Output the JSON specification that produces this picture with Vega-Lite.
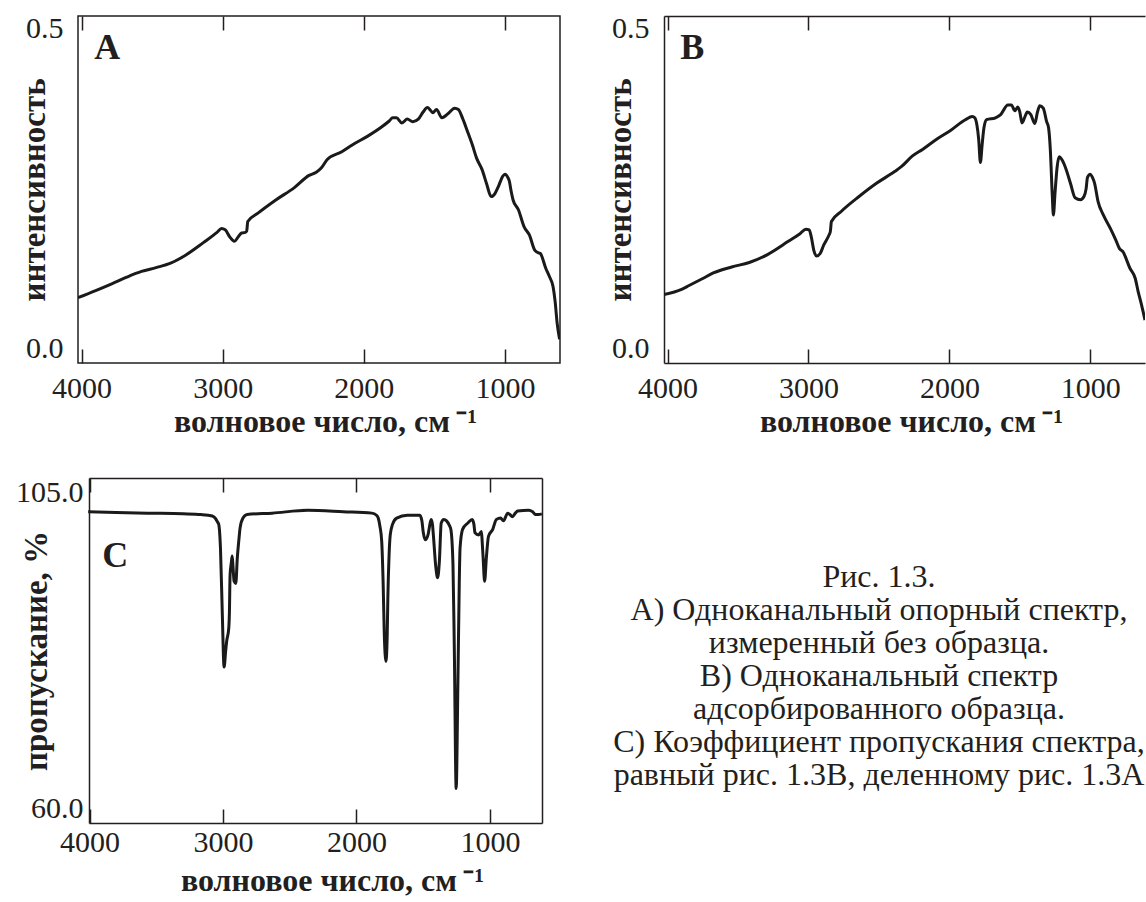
{
  "$schema": "https://vega.github.io/schema/vega-lite/v6.json",
  "background": "white",
  "padding": {"left": 14, "top": 13, "right": 0, "bottom": 0},
  "config": {
    "view": {"stroke": "#231f20", "strokeWidth": 1.5},
    "font": "Liberation Serif",
    "axis": {
      "labelFont": "Liberation Serif", "titleFont": "Liberation Serif",
      "labelColor": "#231f20", "titleColor": "#231f20",
      "labelFontSize": 30, "titleFontSize": 33, "titleFontWeight": "bold",
      "grid": false, "domain": false, "tickColor": "#231f20", "tickWidth": 1.5,
      "domainColor": "#231f20", "domainWidth": 1.5,
      "labelOverlap": false, "labelFlush": false
    }
  },
  "datasets": {
    "A": [
      {"wavenumber": 4025, "value": 0.080}, {"wavenumber": 3900, "value": 0.091}, {"wavenumber": 3782, "value": 0.102},
      {"wavenumber": 3680, "value": 0.112}, {"wavenumber": 3575, "value": 0.121}, {"wavenumber": 3472, "value": 0.127},
      {"wavenumber": 3369, "value": 0.134}, {"wavenumber": 3266, "value": 0.146}, {"wavenumber": 3137, "value": 0.166},
      {"wavenumber": 3040, "value": 0.182}, {"wavenumber": 3008, "value": 0.188}, {"wavenumber": 2982, "value": 0.186},
      {"wavenumber": 2950, "value": 0.175}, {"wavenumber": 2917, "value": 0.168}, {"wavenumber": 2890, "value": 0.175},
      {"wavenumber": 2866, "value": 0.181}, {"wavenumber": 2840, "value": 0.182}, {"wavenumber": 2830, "value": 0.184},
      {"wavenumber": 2822, "value": 0.199}, {"wavenumber": 2750, "value": 0.212}, {"wavenumber": 2621, "value": 0.233},
      {"wavenumber": 2492, "value": 0.252}, {"wavenumber": 2388, "value": 0.271}, {"wavenumber": 2337, "value": 0.276},
      {"wavenumber": 2300, "value": 0.283}, {"wavenumber": 2259, "value": 0.296}, {"wavenumber": 2156, "value": 0.308},
      {"wavenumber": 2079, "value": 0.319}, {"wavenumber": 1975, "value": 0.332}, {"wavenumber": 1872, "value": 0.347},
      {"wavenumber": 1820, "value": 0.356}, {"wavenumber": 1795, "value": 0.361}, {"wavenumber": 1769, "value": 0.361},
      {"wavenumber": 1730, "value": 0.353}, {"wavenumber": 1692, "value": 0.359}, {"wavenumber": 1653, "value": 0.355},
      {"wavenumber": 1614, "value": 0.359}, {"wavenumber": 1580, "value": 0.370}, {"wavenumber": 1550, "value": 0.377},
      {"wavenumber": 1525, "value": 0.372}, {"wavenumber": 1511, "value": 0.369}, {"wavenumber": 1485, "value": 0.374},
      {"wavenumber": 1447, "value": 0.361}, {"wavenumber": 1400, "value": 0.368}, {"wavenumber": 1356, "value": 0.376},
      {"wavenumber": 1330, "value": 0.374}, {"wavenumber": 1300, "value": 0.360}, {"wavenumber": 1266, "value": 0.340},
      {"wavenumber": 1230, "value": 0.318}, {"wavenumber": 1201, "value": 0.298}, {"wavenumber": 1162, "value": 0.280},
      {"wavenumber": 1130, "value": 0.258}, {"wavenumber": 1098, "value": 0.238}, {"wavenumber": 1070, "value": 0.243},
      {"wavenumber": 1046, "value": 0.254}, {"wavenumber": 1015, "value": 0.270}, {"wavenumber": 1000, "value": 0.273},
      {"wavenumber": 980, "value": 0.268}, {"wavenumber": 969, "value": 0.262}, {"wavenumber": 955, "value": 0.245},
      {"wavenumber": 943, "value": 0.233}, {"wavenumber": 904, "value": 0.217}, {"wavenumber": 865, "value": 0.191},
      {"wavenumber": 827, "value": 0.178}, {"wavenumber": 788, "value": 0.154}, {"wavenumber": 760, "value": 0.150},
      {"wavenumber": 749, "value": 0.149}, {"wavenumber": 711, "value": 0.126}, {"wavenumber": 685, "value": 0.113},
      {"wavenumber": 659, "value": 0.097}, {"wavenumber": 645, "value": 0.075}, {"wavenumber": 630, "value": 0.040},
      {"wavenumber": 613, "value": 0.015}
    ],
    "B": [
      {"wavenumber": 4025, "value": 0.085}, {"wavenumber": 3900, "value": 0.093}, {"wavenumber": 3847, "value": 0.099},
      {"wavenumber": 3750, "value": 0.110}, {"wavenumber": 3671, "value": 0.119}, {"wavenumber": 3545, "value": 0.128},
      {"wavenumber": 3420, "value": 0.135}, {"wavenumber": 3294, "value": 0.147}, {"wavenumber": 3143, "value": 0.168},
      {"wavenumber": 3060, "value": 0.180}, {"wavenumber": 3018, "value": 0.187}, {"wavenumber": 2995, "value": 0.186},
      {"wavenumber": 2980, "value": 0.175}, {"wavenumber": 2962, "value": 0.154}, {"wavenumber": 2942, "value": 0.145},
      {"wavenumber": 2917, "value": 0.149}, {"wavenumber": 2892, "value": 0.162}, {"wavenumber": 2854, "value": 0.178},
      {"wavenumber": 2845, "value": 0.183}, {"wavenumber": 2837, "value": 0.199}, {"wavenumber": 2766, "value": 0.215},
      {"wavenumber": 2641, "value": 0.238}, {"wavenumber": 2515, "value": 0.259}, {"wavenumber": 2389, "value": 0.277},
      {"wavenumber": 2339, "value": 0.285}, {"wavenumber": 2264, "value": 0.301}, {"wavenumber": 2188, "value": 0.312},
      {"wavenumber": 2088, "value": 0.328}, {"wavenumber": 1987, "value": 0.342}, {"wavenumber": 1887, "value": 0.358},
      {"wavenumber": 1837, "value": 0.363}, {"wavenumber": 1820, "value": 0.361}, {"wavenumber": 1805, "value": 0.350},
      {"wavenumber": 1792, "value": 0.327}, {"wavenumber": 1780, "value": 0.291}, {"wavenumber": 1768, "value": 0.318},
      {"wavenumber": 1755, "value": 0.345}, {"wavenumber": 1736, "value": 0.358}, {"wavenumber": 1673, "value": 0.361},
      {"wavenumber": 1636, "value": 0.366}, {"wavenumber": 1585, "value": 0.381}, {"wavenumber": 1560, "value": 0.381},
      {"wavenumber": 1535, "value": 0.372}, {"wavenumber": 1515, "value": 0.378}, {"wavenumber": 1500, "value": 0.370},
      {"wavenumber": 1485, "value": 0.353}, {"wavenumber": 1465, "value": 0.362}, {"wavenumber": 1447, "value": 0.370},
      {"wavenumber": 1422, "value": 0.366}, {"wavenumber": 1394, "value": 0.352}, {"wavenumber": 1375, "value": 0.370},
      {"wavenumber": 1359, "value": 0.380}, {"wavenumber": 1334, "value": 0.376}, {"wavenumber": 1310, "value": 0.355},
      {"wavenumber": 1296, "value": 0.345}, {"wavenumber": 1284, "value": 0.312}, {"wavenumber": 1270, "value": 0.240},
      {"wavenumber": 1262, "value": 0.209}, {"wavenumber": 1250, "value": 0.245}, {"wavenumber": 1235, "value": 0.285},
      {"wavenumber": 1221, "value": 0.300}, {"wavenumber": 1200, "value": 0.295}, {"wavenumber": 1171, "value": 0.280},
      {"wavenumber": 1140, "value": 0.258}, {"wavenumber": 1108, "value": 0.236}, {"wavenumber": 1070, "value": 0.233},
      {"wavenumber": 1045, "value": 0.238}, {"wavenumber": 1030, "value": 0.250}, {"wavenumber": 1020, "value": 0.268},
      {"wavenumber": 1000, "value": 0.273}, {"wavenumber": 985, "value": 0.268}, {"wavenumber": 970, "value": 0.259},
      {"wavenumber": 945, "value": 0.230}, {"wavenumber": 907, "value": 0.209}, {"wavenumber": 857, "value": 0.188},
      {"wavenumber": 819, "value": 0.170}, {"wavenumber": 794, "value": 0.157}, {"wavenumber": 769, "value": 0.152},
      {"wavenumber": 719, "value": 0.126}, {"wavenumber": 681, "value": 0.110}, {"wavenumber": 661, "value": 0.090},
      {"wavenumber": 640, "value": 0.072}, {"wavenumber": 625, "value": 0.058}, {"wavenumber": 612, "value": 0.045}
    ],
    "C": [
      {"wavenumber": 4010, "value": 102.3}, {"wavenumber": 3800, "value": 102.2}, {"wavenumber": 3565, "value": 102.1},
      {"wavenumber": 3300, "value": 102.0}, {"wavenumber": 3165, "value": 101.9}, {"wavenumber": 3080, "value": 101.7},
      {"wavenumber": 3059, "value": 101.4}, {"wavenumber": 3040, "value": 100.8}, {"wavenumber": 3032, "value": 100.5},
      {"wavenumber": 3019, "value": 97.1}, {"wavenumber": 3005, "value": 87.6}, {"wavenumber": 2992, "value": 80.2},
      {"wavenumber": 2980, "value": 82.5}, {"wavenumber": 2973, "value": 83.8}, {"wavenumber": 2957, "value": 85.7},
      {"wavenumber": 2952, "value": 88.0}, {"wavenumber": 2947, "value": 93.3}, {"wavenumber": 2938, "value": 95.0},
      {"wavenumber": 2931, "value": 96.0}, {"wavenumber": 2925, "value": 94.5}, {"wavenumber": 2917, "value": 92.4},
      {"wavenumber": 2904, "value": 92.1}, {"wavenumber": 2893, "value": 95.7}, {"wavenumber": 2880, "value": 98.5},
      {"wavenumber": 2872, "value": 100.0}, {"wavenumber": 2850, "value": 101.4}, {"wavenumber": 2819, "value": 101.9},
      {"wavenumber": 2632, "value": 102.1}, {"wavenumber": 2365, "value": 102.5}, {"wavenumber": 2099, "value": 102.3},
      {"wavenumber": 1885, "value": 102.1}, {"wavenumber": 1850, "value": 101.8}, {"wavenumber": 1837, "value": 101.4},
      {"wavenumber": 1825, "value": 100.3}, {"wavenumber": 1811, "value": 98.1}, {"wavenumber": 1800, "value": 92.0},
      {"wavenumber": 1792, "value": 85.2}, {"wavenumber": 1779, "value": 81.0}, {"wavenumber": 1770, "value": 84.5},
      {"wavenumber": 1765, "value": 90.0}, {"wavenumber": 1756, "value": 96.0}, {"wavenumber": 1747, "value": 99.0},
      {"wavenumber": 1730, "value": 100.5}, {"wavenumber": 1699, "value": 101.4}, {"wavenumber": 1619, "value": 101.8},
      {"wavenumber": 1525, "value": 101.8}, {"wavenumber": 1510, "value": 101.0}, {"wavenumber": 1499, "value": 99.3},
      {"wavenumber": 1485, "value": 98.3}, {"wavenumber": 1464, "value": 99.0}, {"wavenumber": 1450, "value": 100.5},
      {"wavenumber": 1440, "value": 101.2}, {"wavenumber": 1430, "value": 100.4}, {"wavenumber": 1424, "value": 99.0},
      {"wavenumber": 1405, "value": 94.3}, {"wavenumber": 1392, "value": 92.9}, {"wavenumber": 1379, "value": 95.2},
      {"wavenumber": 1365, "value": 100.7}, {"wavenumber": 1345, "value": 101.2}, {"wavenumber": 1325, "value": 101.0},
      {"wavenumber": 1305, "value": 100.4}, {"wavenumber": 1293, "value": 99.8}, {"wavenumber": 1277, "value": 94.8},
      {"wavenumber": 1267, "value": 82.9}, {"wavenumber": 1253, "value": 62.9}, {"wavenumber": 1240, "value": 78.1},
      {"wavenumber": 1230, "value": 92.0}, {"wavenumber": 1224, "value": 97.1}, {"wavenumber": 1205, "value": 99.8},
      {"wavenumber": 1165, "value": 100.7}, {"wavenumber": 1133, "value": 101.2}, {"wavenumber": 1120, "value": 100.5},
      {"wavenumber": 1112, "value": 99.3}, {"wavenumber": 1085, "value": 99.0}, {"wavenumber": 1064, "value": 99.5},
      {"wavenumber": 1058, "value": 98.0}, {"wavenumber": 1051, "value": 95.7}, {"wavenumber": 1040, "value": 92.4},
      {"wavenumber": 1027, "value": 95.7}, {"wavenumber": 1011, "value": 98.8}, {"wavenumber": 979, "value": 99.8},
      {"wavenumber": 952, "value": 101.2}, {"wavenumber": 920, "value": 101.4}, {"wavenumber": 899, "value": 101.0},
      {"wavenumber": 867, "value": 102.1}, {"wavenumber": 850, "value": 101.9}, {"wavenumber": 832, "value": 101.6},
      {"wavenumber": 810, "value": 102.1}, {"wavenumber": 792, "value": 102.4}, {"wavenumber": 712, "value": 102.5},
      {"wavenumber": 680, "value": 102.3}, {"wavenumber": 659, "value": 101.9}, {"wavenumber": 635, "value": 101.9},
      {"wavenumber": 611, "value": 102.0}
    ],
    "caption": [
      {"line": 1, "text": "Рис. 1.3."},
      {"line": 2, "text": "А) Одноканальный опорный спектр,"},
      {"line": 3, "text": "измеренный без образца."},
      {"line": 4, "text": "В) Одноканальный спектр"},
      {"line": 5, "text": "адсорбированного образца."},
      {"line": 6, "text": "С) Коэффициент пропускания спектра,"},
      {"line": 7, "text": "равный рис. 1.3В, деленному рис. 1.3А"}
    ]
  },
  "spacing": 39,
  "vconcat": [
    {
      "spacing": 40,
      "hconcat": [
        {
          "width": 482, "height": 347,
          "resolve": {"axis": {"x": "independent"}},
          "layer": [
            {
              "data": {"name": "A"},
              "mark": {"type": "line", "color": "#1a1a1a", "strokeWidth": 3, "interpolate": "monotone", "clip": true},
              "encoding": {
                "x": {"field": "wavenumber", "type": "quantitative",
                  "scale": {"domain": [4025, 610], "nice": false, "zero": false},
                  "axis": {"orient": "bottom", "values": [4000, 3000, 2000, 1000], "format": "d", "tickSize": -14, "labelPadding": 24, "title": "волновое число, см\u2009⁻¹", "titleFontSize": 32, "titlePadding": 3, "titleX": 247}},
                "y": {"field": "value", "type": "quantitative",
                  "scale": {"domain": [-0.022, 0.52], "nice": false, "zero": false},
                  "axis": {"values": [0, 0.5], "format": ".1f", "ticks": false, "labelPadding": 15, "title": "интенсивность", "titlePadding": -36, "minExtent": 63}},
                "order": {"field": "wavenumber", "sort": "descending"}
              }
            },
            {
              "data": {"values": [{"panel": "A"}]},
              "mark": {"type": "text", "font": "Liberation Serif", "fontWeight": "bold", "fontSize": 36, "color": "#231f20", "align": "left", "baseline": "alphabetic"},
              "encoding": {
                "text": {"field": "panel"},
                "x": {"datum": 3910, "type": "quantitative",
                  "axis": {"orient": "top", "values": [4000, 3000, 2000, 1000], "labels": false, "tickSize": -14, "title": null}},
                "y": {"datum": 0.453, "type": "quantitative"}
              }
            }
          ]
        },
        {
          "width": 481, "height": 347,
          "view": {"stroke": null},
          "resolve": {"axis": {"x": "independent"}},
          "layer": [
            {
              "data": {"name": "B"},
              "mark": {"type": "line", "color": "#1a1a1a", "strokeWidth": 3, "interpolate": "monotone", "clip": true},
              "encoding": {
                "x": {"field": "wavenumber", "type": "quantitative",
                  "scale": {"domain": [4025, 612], "nice": false, "zero": false},
                  "axis": {"orient": "bottom", "domain": true, "values": [4000, 3000, 2000, 1000], "format": "d", "tickSize": -14, "labelPadding": 24, "title": "волновое число, см\u2009⁻¹", "titleFontSize": 32, "titlePadding": 3, "titleX": 247}},
                "y": {"field": "value", "type": "quantitative",
                  "scale": {"domain": [-0.022, 0.52], "nice": false, "zero": false},
                  "axis": {"values": [0, 0.5], "format": ".1f", "ticks": false, "domain": true, "labelPadding": 15, "title": "интенсивность", "titlePadding": -36, "minExtent": 63}},
                "order": {"field": "wavenumber", "sort": "descending"}
              }
            },
            {
              "data": {"values": [{"panel": "B"}]},
              "mark": {"type": "text", "font": "Liberation Serif", "fontWeight": "bold", "fontSize": 36, "color": "#231f20", "align": "left", "baseline": "alphabetic"},
              "encoding": {
                "text": {"field": "panel"},
                "x": {"datum": 3910, "type": "quantitative",
                  "axis": {"orient": "top", "domain": true, "values": [4000, 3000, 2000, 1000], "labels": false, "tickSize": -14, "title": null}},
                "y": {"datum": 0.453, "type": "quantitative"}
              }
            }
          ]
        }
      ]
    },
    {
      "spacing": 4,
      "hconcat": [
        {
          "width": 464, "height": 345,
          "view": {"stroke": null},
          "resolve": {"axis": {"x": "independent", "y": "independent"}},
          "layer": [
            {
              "data": {"name": "C"},
              "mark": {"type": "line", "color": "#1a1a1a", "strokeWidth": 3, "interpolate": "monotone", "clip": true},
              "encoding": {
                "x": {"field": "wavenumber", "type": "quantitative",
                  "scale": {"domain": [4004, 610], "range": [11, 464], "nice": false, "zero": false},
                  "axis": {"orient": "bottom", "domain": true, "values": [4000, 3000, 2000, 1000], "format": "d", "tickSize": -14, "labelPadding": 18, "title": "волновое число, см\u2009⁻¹", "titleFontSize": 32, "titlePadding": 8, "titleX": 254}},
                "y": {"field": "value", "type": "quantitative",
                  "scale": {"domain": [58.0, 107.1], "nice": false, "zero": false},
                  "axis": {"orient": "left", "offset": -11, "domain": true, "values": [60, 105], "format": ".1f", "ticks": false, "labelPadding": 6, "title": "пропускание, %", "titlePadding": -38, "minExtent": 74}},
                "order": {"field": "wavenumber", "sort": "descending"}
              }
            },
            {
              "data": {"values": [{"panel": "C"}]},
              "mark": {"type": "text", "font": "Liberation Serif", "fontWeight": "bold", "fontSize": 36, "color": "#231f20", "align": "left", "baseline": "alphabetic"},
              "encoding": {
                "text": {"field": "panel"},
                "x": {"datum": 3905, "type": "quantitative",
                  "axis": {"orient": "top", "domain": true, "values": [4000, 3000, 2000, 1000], "labels": false, "tickSize": -14, "title": null}},
                "y": {"datum": 94.5, "type": "quantitative",
                  "axis": {"orient": "right", "domain": true, "labels": false, "ticks": false, "title": null}}
              }
            }
          ]
        },
        {
          "width": 666, "height": 345,
          "view": {"stroke": null},
          "data": {"name": "caption"},
          "mark": {"type": "text", "font": "Liberation Serif", "fontSize": 32, "color": "#231f20", "align": "center", "baseline": "middle"},
          "encoding": {
            "text": {"field": "text"},
            "x": {"datum": 0, "type": "quantitative", "scale": {"domain": [-1, 1]}, "axis": null},
            "y": {"field": "line", "type": "quantitative", "scale": {"domain": [8.4545, -2.0], "nice": false, "zero": false}, "axis": null}
          }
        }
      ]
    }
  ]
}
